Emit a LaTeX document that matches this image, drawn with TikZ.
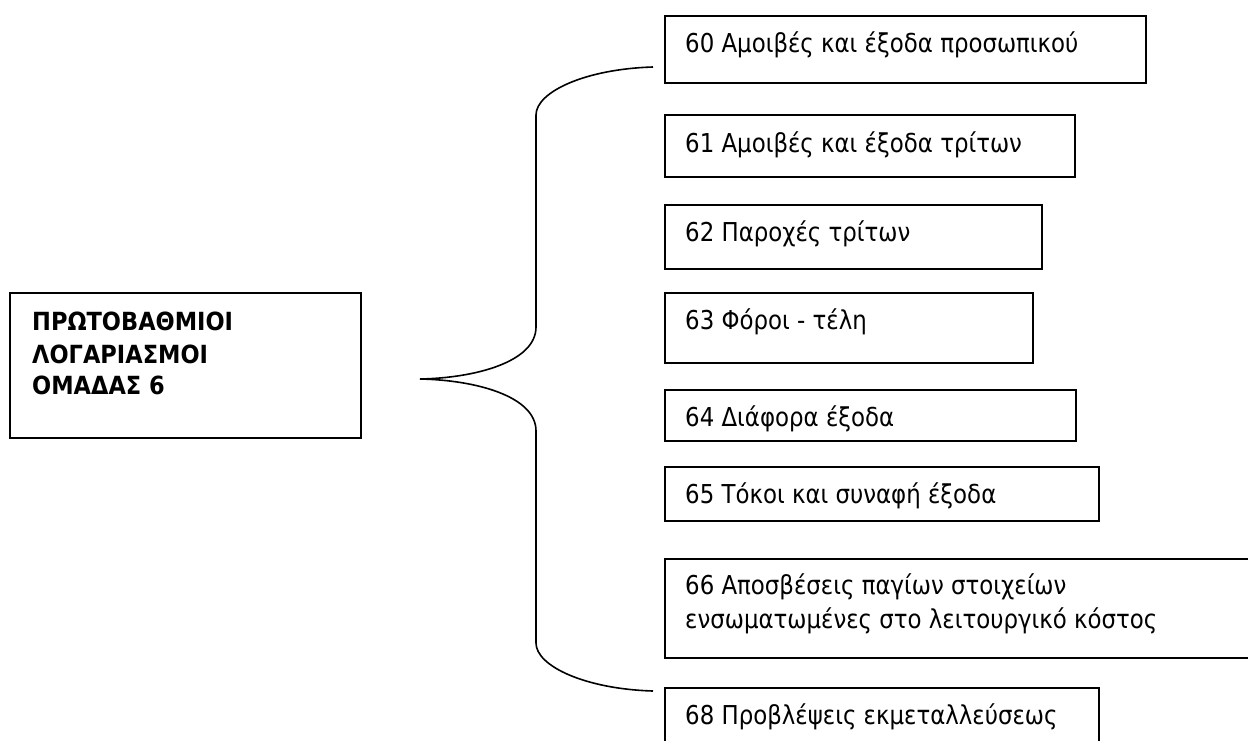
\documentclass[tikz,border=0pt]{standalone}
\usepackage{fontspec}
\setmainfont{DejaVu Sans}
\newfontfamily\boxfont{DejaVu Sans}[FakeStretch=0.88]
\newfontfamily\headfont{DejaVu Sans}[FakeStretch=0.9]
\usetikzlibrary{calc}
\begin{document}
\begin{tikzpicture}[x=1pt,y=-1pt,
  box/.style={draw=black, line width=1.8pt, rectangle, inner sep=0pt, anchor=north west},
  txt/.style={anchor=base west, inner sep=0pt, font=\boxfont\fontsize{26}{34}\selectfont},
  head/.style={anchor=base west, inner sep=0pt, font=\headfont\bfseries\fontsize{25}{32}\selectfont},
  bracestyle/.style={draw=black, line width=1.6pt}]
\useasboundingbox (0,0) rectangle (1248,740);
\clip (0,0) rectangle (1248,740);
% main box
\node[box, minimum width=351pt, minimum height=145pt] (main) at (9,292) {};
\node[head] (h1) at ($(main.north west)+(23,38)$) {ΠΡΩΤΟΒΑΘΜΙΟΙ};
\node[head] (h2) at ($(main.north west)+(23,71)$) {ΛΟΓΑΡΙΑΣΜΟΙ};
\node[head] (h3) at ($(main.north west)+(23,102)$) {ΟΜΑΔΑΣ 6};
% right boxes
\node[box, minimum width=481pt, minimum height=67pt] (b60) at (664,15) {};
\node[txt] (t60) at ($(b60.north west)+(21,37)$) {60 Αμοιβές και έξοδα προσωπικού};
\node[box, minimum width=410pt, minimum height=62pt] (b61) at (664,114) {};
\node[txt] (t61) at ($(b61.north west)+(21,38)$) {61 Αμοιβές και έξοδα τρίτων};
\node[box, minimum width=377pt, minimum height=64pt] (b62) at (664,204) {};
\node[txt] (t62) at ($(b62.north west)+(21,37)$) {62 Παροχές τρίτων};
\node[box, minimum width=368pt, minimum height=70pt] (b63) at (664,292) {};
\node[txt] (t63) at ($(b63.north west)+(21,37)$) {63 Φόροι - τέλη};
\node[box, minimum width=411pt, minimum height=51pt] (b64) at (664,389) {};
\node[txt] (t64) at ($(b64.north west)+(21,37)$) {64 Διάφορα έξοδα};
\node[box, minimum width=434pt, minimum height=54pt] (b65) at (664,466) {};
\node[txt] (t65) at ($(b65.north west)+(21,37)$) {65 Τόκοι και συναφή έξοδα};
\node[box, minimum width=592pt, minimum height=99pt] (b66) at (664,558) {};
\node[txt] (t66a) at ($(b66.north west)+(21,36)$) {66 Αποσβέσεις παγίων στοιχείων};
\node[txt] (t66b) at ($(b66.north west)+(21,70)$) {ενσωματωμένες στο λειτουργικό κόστος};
\node[box, minimum width=434pt, minimum height=70pt] (b68) at (664,687) {};
\node[txt] (t68) at ($(b68.north west)+(21,37)$) {68 Προβλέψεις εκμεταλλεύσεως};
% brace
\coordinate (btop) at (653,67);
\coordinate (bbot) at (653,691);
\coordinate (btip) at (420,379);
\draw[bracestyle] (btop) .. controls (585,69) and (536,92) .. (536,115)
  -- (536,327) .. controls (536,362) and (475,378) .. (btip)
  .. controls (475,380) and (536,396) .. (536,431)
  -- (536,643) .. controls (536,666) and (585,689) .. (bbot);
\end{tikzpicture}
\end{document}
